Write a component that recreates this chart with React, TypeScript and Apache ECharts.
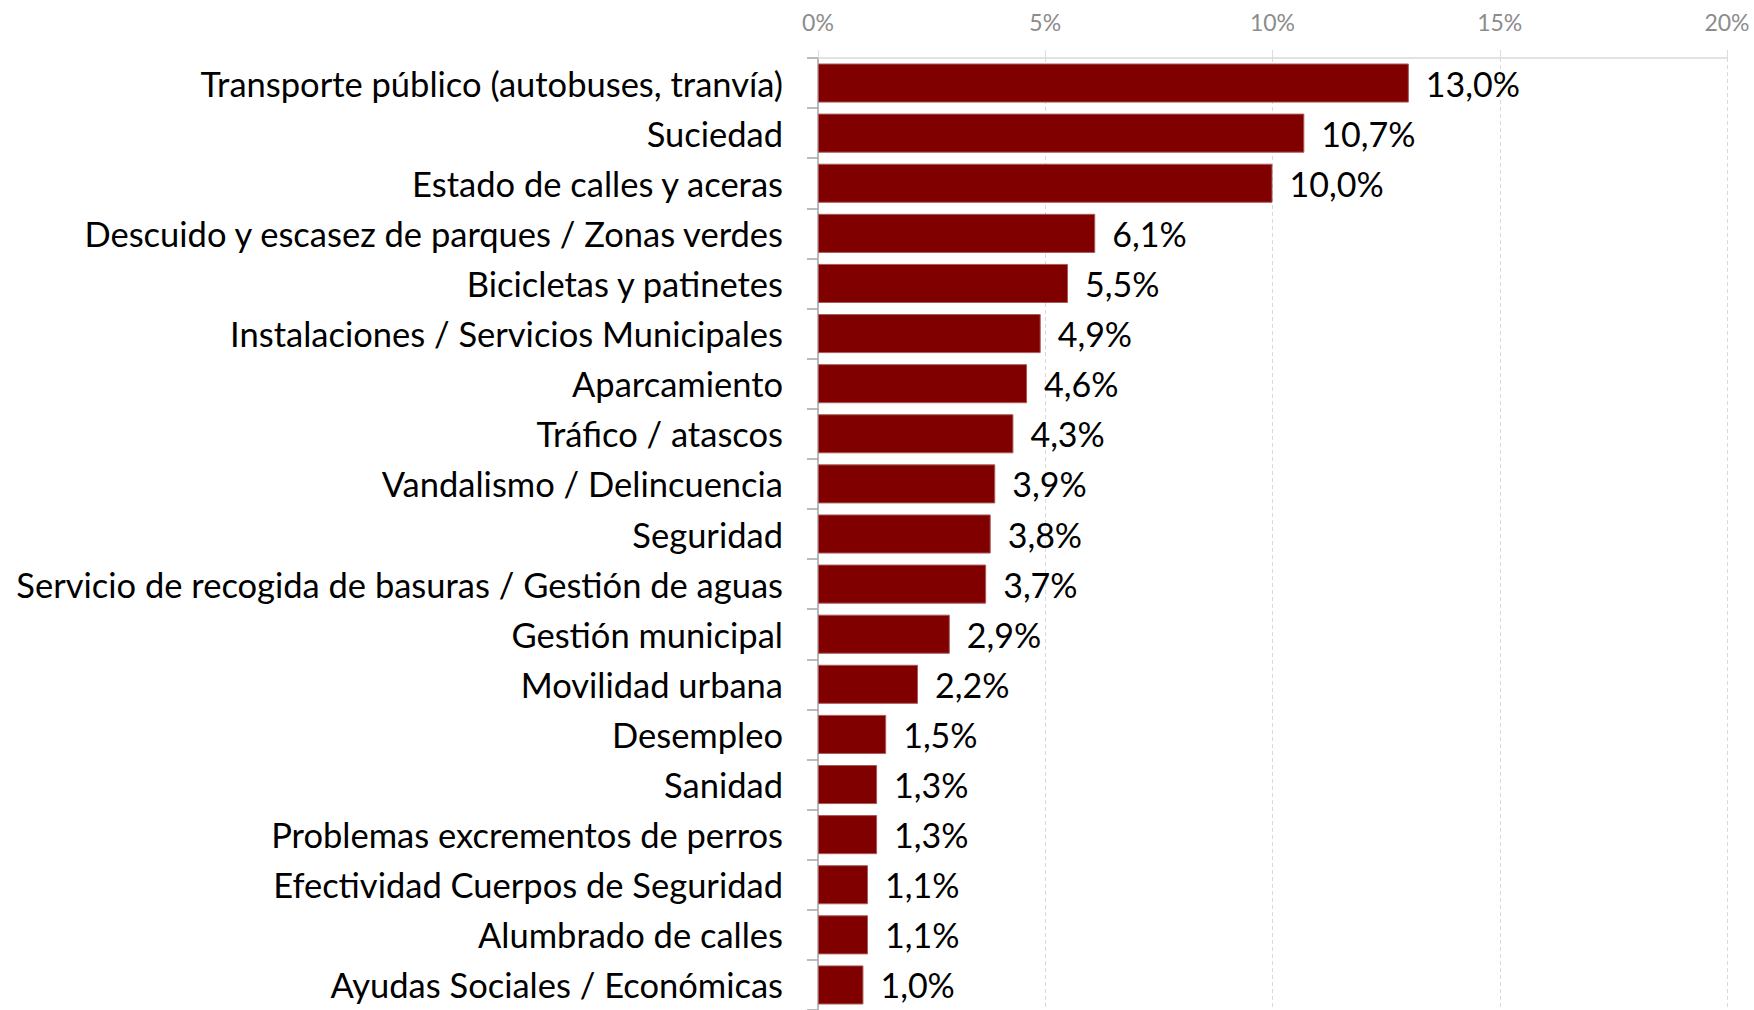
import React, { useEffect, useRef } from "react";
import * as echarts from "echarts";

const categories: string[] = [
  "Transporte público (autobuses, tranvía)",
  "Suciedad",
  "Estado de calles y aceras",
  "Descuido y escasez de parques / Zonas verdes",
  "Bicicletas y patinetes",
  "Instalaciones / Servicios Municipales",
  "Aparcamiento",
  "Tráfico / atascos",
  "Vandalismo / Delincuencia",
  "Seguridad",
  "Servicio de recogida de basuras / Gestión de aguas",
  "Gestión municipal",
  "Movilidad urbana",
  "Desempleo",
  "Sanidad",
  "Problemas excrementos de perros",
  "Efectividad Cuerpos de Seguridad",
  "Alumbrado de calles",
  "Ayudas Sociales / Económicas",
];

const values: number[] = [
  13.0, 10.7, 10.0, 6.1, 5.5, 4.9, 4.6, 4.3, 3.9, 3.8, 3.7, 2.9, 2.2, 1.5, 1.3,
  1.3, 1.1, 1.1, 1.0,
];

const axisMin = 0;
const axisMax = 20;
const axisInterval = 5;

const FONT = "Lato";

export default function App() {
  const ref = useRef<HTMLDivElement>(null);

  useEffect(() => {
    document.body.style.margin = "0";
    if (!ref.current) return;
    const chart = echarts.init(ref.current, undefined, { renderer: "svg" });
    chart.setOption({
      animation: false,
      backgroundColor: "#ffffff",
      grid: {
        left: 818,
        right: 27,
        top: 58,
        bottom: -6,
        containLabel: false,
      },
      xAxis: {
        type: "value",
        position: "top",
        min: axisMin,
        max: axisMax,
        interval: axisInterval,
        axisLine: { show: true, lineStyle: { color: "#d9d9d9", width: 1.5 } },
        axisTick: {
          show: true,
          length: 8,
          lineStyle: { color: "#dcdcdc", width: 1 },
        },
        splitLine: {
          show: true,
          lineStyle: { color: "#d9d9d9", type: [4, 3], width: 1 },
        },
        axisLabel: {
          formatter: (v: number) => `${v}%`,
          color: "#8c8c8c",
          fontFamily: FONT,
          fontSize: 23,
          margin: 25,
        },
      },
      yAxis: {
        type: "category",
        inverse: true,
        data: categories,
        axisLine: { show: true, lineStyle: { color: "#a6a6a6", width: 1.5 } },
        axisTick: {
          show: true,
          length: 11,
          lineStyle: { color: "#a6a6a6", width: 1.5 },
        },
        splitLine: { show: false },
        axisLabel: {
          color: "#000000",
          fontFamily: FONT,
          fontSize: 34.5,
          margin: 35,
        },
      },
      series: [
        {
          type: "bar",
          data: values,
          barWidth: "78%",
          itemStyle: {
            color: "#800000",
            borderColor: "#a85a5a",
            borderWidth: 1,
          },
          label: {
            show: true,
            position: "right",
            distance: 17,
            color: "#000000",
            fontFamily: FONT,
            fontSize: 34,
            formatter: (p: any) => `${p.value.toFixed(1).replace(".", ",")}%`,
          },
        },
      ],
    });
    return () => chart.dispose();
  }, []);

  return (
    <div
      ref={ref}
      style={{ position: "absolute", left: 0, top: 0, width: 1754, height: 1010 }}
    />
  );
}
